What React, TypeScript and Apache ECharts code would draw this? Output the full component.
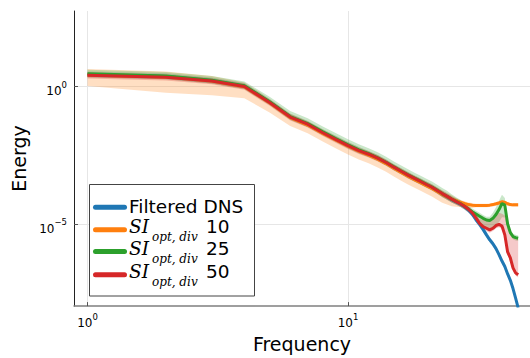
import React, { useEffect, useRef } from "react";
import * as echarts from "echarts";

// Wavenumbers (frequency) 1..45
const frequencies = [
  1, 2, 3, 4, 5, 6, 7, 8, 9, 10, 11, 12, 13, 14, 15, 16, 17, 18, 19, 20, 21, 22, 23,
  24, 25, 26, 27, 28, 29, 30, 31, 32, 33, 34, 35, 36, 37, 38, 39, 40, 41, 42, 43, 44, 45,
];

// Energy values as log10(E)
const dnsLog = [
  0.42, 0.35, 0.2, 0.0, -0.58, -1.12, -1.38, -1.68, -1.93, -2.15, -2.33, -2.47, -2.62, -2.78,
  -2.95, -3.1, -3.24, -3.36, -3.47, -3.58, -3.68, -3.8, -3.92, -4.02, -4.12, -4.2, -4.28, -4.38,
  -4.5, -4.65, -4.85, -5.02, -5.2, -5.4, -5.58, -5.72, -5.9, -6.12, -6.35, -6.55, -6.82, -7.05,
  -7.35, -7.7, -8.05,
];
const si10Log = [
  0.41, 0.34, 0.19, -0.02, -0.6, -1.14, -1.41, -1.71, -1.96, -2.18, -2.36, -2.5, -2.65, -2.81,
  -2.98, -3.13, -3.27, -3.39, -3.5, -3.61, -3.71, -3.82, -3.93, -4.02, -4.1, -4.16, -4.21, -4.26,
  -4.3, -4.32, -4.33, -4.33, -4.33, -4.33, -4.32, -4.3, -4.27, -4.24, -4.2, -4.22, -4.27, -4.3,
  -4.31, -4.31, -4.31,
];
const si25Log = [
  0.45, 0.37, 0.22, 0.02, -0.56, -1.1, -1.36, -1.66, -1.91, -2.13, -2.31, -2.45, -2.6, -2.76,
  -2.93, -3.08, -3.22, -3.34, -3.45, -3.56, -3.66, -3.78, -3.9, -4.0, -4.1, -4.18, -4.26, -4.36,
  -4.46, -4.56, -4.64, -4.72, -4.8, -4.86, -4.88, -4.8, -4.66, -4.48, -4.26, -4.32, -5.0, -5.32,
  -5.46, -5.5, -5.52,
];
const si50Log = [
  0.4, 0.33, 0.19, -0.01, -0.59, -1.12, -1.38, -1.69, -1.94, -2.16, -2.34, -2.47, -2.61, -2.77,
  -2.94, -3.09, -3.23, -3.35, -3.46, -3.57, -3.67, -3.79, -3.9, -4.0, -4.1, -4.19, -4.27, -4.36,
  -4.47, -4.6, -4.78, -4.98, -5.1, -5.16, -5.22, -5.16, -5.06, -5.02, -5.08, -5.4, -6.02, -6.24,
  -6.6, -6.78, -6.85,
];

// Ribbon half-widths (log10 units), above and below each curve
const dnsUp = [
  0.12, 0.12, 0.12, 0.12, 0.12, 0.12, 0.12, 0.12, 0.12, 0.12, 0.12, 0.12, 0.12, 0.12, 0.12,
  0.12, 0.12, 0.12, 0.12, 0.12, 0.12, 0.12, 0.12, 0.12, 0.12, 0.12, 0.12, 0.12, 0.12, 0.12,
  0.12, 0.12, 0.12, 0.12, 0.1, 0.1, 0.1, 0.1, 0.1, 0.1, 0.1, 0.1, 0.1, 0.1, 0.1,
];
const dnsDown = [
  0.1, 0.1, 0.1, 0.1, 0.1, 0.1, 0.1, 0.1, 0.1, 0.1, 0.1, 0.1, 0.1, 0.1, 0.1, 0.1, 0.1, 0.1,
  0.1, 0.1, 0.1, 0.1, 0.1, 0.1, 0.1, 0.1, 0.1, 0.1, 0.1, 0.1, 0.1, 0.1, 0.1, 0.1, 0.1, 0.1,
  0.1, 0.1, 0.1, 0.1, 0.1, 0.1, 0.1, 0.1, 0.1,
];
const si10Up = [
  0.22, 0.2, 0.18, 0.16, 0.15, 0.15, 0.15, 0.15, 0.15, 0.15, 0.15, 0.15, 0.15, 0.15, 0.15,
  0.15, 0.15, 0.15, 0.15, 0.15, 0.15, 0.15, 0.15, 0.15, 0.14, 0.1, 0.08, 0.08, 0.08, 0.08,
  0.06, 0.06, 0.06, 0.06, 0.06, 0.06, 0.06, 0.07, 0.08, 0.07, 0.06, 0.06, 0.06, 0.06, 0.06,
];
const si10Down = [
  0.4, 0.58, 0.52, 0.42, 0.35, 0.3, 0.3, 0.3, 0.3, 0.3, 0.3, 0.3, 0.3, 0.3, 0.3,
  0.3, 0.3, 0.3, 0.3, 0.3, 0.3, 0.3, 0.3, 0.28, 0.26, 0.22, 0.18, 0.15, 0.12, 0.1,
  0.07, 0.07, 0.07, 0.07, 0.07, 0.07, 0.07, 0.07, 0.07, 0.07, 0.07, 0.07, 0.07, 0.07, 0.07,
];
const si25Up = [
  0.15, 0.15, 0.15, 0.15, 0.18, 0.2, 0.2, 0.2, 0.2, 0.2, 0.2, 0.2, 0.2, 0.2, 0.2, 0.2, 0.2,
  0.2, 0.2, 0.2, 0.2, 0.2, 0.2, 0.2, 0.18, 0.15, 0.14, 0.13, 0.12, 0.12, 0.12, 0.12, 0.12,
  0.12, 0.14, 0.2, 0.26, 0.32, 0.32, 0.26, 0.16, 0.1, 0.1, 0.1, 0.1,
];
const si25Down = [
  0.12, 0.12, 0.12, 0.12, 0.12, 0.12, 0.12, 0.12, 0.12, 0.12, 0.12, 0.12, 0.12, 0.12, 0.12,
  0.12, 0.12, 0.12, 0.12, 0.12, 0.12, 0.12, 0.12, 0.12, 0.12, 0.12, 0.12, 0.12, 0.12, 0.12,
  0.15, 0.2, 0.25, 0.3, 0.32, 0.35, 0.4, 0.45, 0.5, 0.45, 0.2, 0.1, 0.1, 0.1, 0.1,
];
const si50Up = [
  0.1, 0.1, 0.1, 0.1, 0.1, 0.1, 0.1, 0.1, 0.1, 0.1, 0.1, 0.1, 0.1, 0.1, 0.1,
  0.1, 0.1, 0.1, 0.1, 0.1, 0.1, 0.1, 0.1, 0.1, 0.1, 0.1, 0.1, 0.1, 0.1, 0.1,
  0.12, 0.16, 0.25, 0.32, 0.36, 0.38, 0.4, 0.42, 0.45, 0.7, 1.0, 1.0, 1.2, 1.25, 1.3,
];
const si50Down = [
  0.12, 0.12, 0.12, 0.12, 0.12, 0.12, 0.12, 0.12, 0.12, 0.12, 0.12, 0.12, 0.12, 0.12, 0.12,
  0.12, 0.12, 0.12, 0.12, 0.12, 0.12, 0.12, 0.12, 0.12, 0.12, 0.12, 0.12, 0.12, 0.12, 0.12,
  0.1, 0.1, 0.1, 0.1, 0.1, 0.1, 0.1, 0.1, 0.1, 0.1, 0.1, 0.1, 0.1, 0.1, 0.1,
];

const xTicks = [0, 1]; // log10 of 10^0, 10^1
const yTicks = [0, -5]; // log10 of 10^0, 10^-5
const Y_MIN = -7.988;
const Y_MAX = 2.734;

const seriesNames = ["Filtered DNS", "SI_opt,div 10", "SI_opt,div 25", "SI_opt,div 50"];
const legendNumbers = ["", "10", "25", "50"];
const colors = ["#1f77b4", "#ff7f0e", "#2ca02c", "#d62728"];

const sup = (v: number) => (v < 0 ? "\u2212" + Math.abs(v) : String(v));

export default function App() {
  const ref = useRef<HTMLDivElement>(null);
  useEffect(() => {
    if (!ref.current) return;
    const chart = echarts.init(ref.current, undefined, { renderer: "svg" });
    const logK = frequencies.map((k) => Math.log10(k));
    const clampY = (v: number) => Math.max(Y_MIN, Math.min(Y_MAX, v));

    const curves = [
      { vals: dnsLog, up: dnsUp, down: dnsDown },
      { vals: si10Log, up: si10Up, down: si10Down },
      { vals: si25Log, up: si25Up, down: si25Down },
      { vals: si50Log, up: si50Up, down: si50Down },
    ];

    const series: any[] = [];
    curves.forEach((c, idx) => {
      const color = colors[idx];
      series.push({
        type: "custom",
        name: "ribbon-" + idx,
        data: [[0, 0]],
        silent: true,
        clip: true,
        z: 2,
        renderItem: (_params: any, api: any) => {
          const pts: number[][] = [];
          for (let i = 0; i < c.vals.length; i++) {
            pts.push(api.coord([logK[i], clampY(c.vals[i] + c.up[i])]));
          }
          for (let i = c.vals.length - 1; i >= 0; i--) {
            pts.push(api.coord([logK[i], clampY(c.vals[i] - c.down[i])]));
          }
          return {
            type: "polygon",
            shape: { points: pts },
            style: { fill: echarts.color.modifyAlpha(color, 0.25), stroke: "none" },
          };
        },
      });
      series.push({
        type: "line",
        name: seriesNames[idx],
        data: c.vals.map((v, i) => [logK[i], v]),
        symbol: "none",
        showSymbol: false,
        lineStyle: { width: 3, color },
        itemStyle: { color },
        z: 3,
      });
    });

    const tickRich = {
      b: { fontFamily: "DejaVu Sans", fontSize: 12, lineHeight: 12, padding: [5, 0, 0, 0], verticalAlign: "top", color: "#000" },
      s: { fontFamily: "DejaVu Sans", fontSize: 8.5, lineHeight: 9, verticalAlign: "top", color: "#000" },
    };

    // Legend drawn with graphic elements (to render the math subscripts)
    const legendRows = [207.3, 229.7, 251.5, 274.7];
    const legendEls: any[] = [
      {
        type: "rect",
        shape: { x: 89.5, y: 184.5, width: 165, height: 111.5 },
        style: { fill: "#fff", stroke: "#444", lineWidth: 1 },
        z: 100,
      },
    ];
    legendRows.forEach((yc, idx) => {
      legendEls.push({
        type: "line",
        shape: { x1: 95.5, y1: yc, x2: 124.5, y2: yc },
        style: { stroke: colors[idx], lineWidth: 5, lineCap: "round" },
        z: 101,
      });
      if (idx === 0) {
        legendEls.push({
          type: "text",
          x: 129,
          y: yc - 1.3,
          style: { text: "Filtered DNS", fontFamily: "DejaVu Sans", fontSize: 18.5, lineHeight: 16, fill: "#000", verticalAlign: "middle", align: "left" },
          z: 101,
        });
      } else {
        legendEls.push({
          type: "text",
          x: 129,
          y: yc - 2.8,
          style: { text: "SI", fontFamily: "DejaVu Serif", fontStyle: "italic", fontSize: 18.5, lineHeight: 16, fill: "#000", verticalAlign: "middle", align: "left" },
          z: 101,
        });
        legendEls.push({
          type: "text",
          x: 152,
          y: yc + 7.6,
          style: { text: "opt, div", fontFamily: "DejaVu Serif", fontStyle: "italic", fontSize: 12, lineHeight: 10, fill: "#000", verticalAlign: "middle", align: "left" },
          z: 101,
        });
        legendEls.push({
          type: "text",
          x: 206,
          y: yc - 2.8,
          style: { text: legendNumbers[idx], fontFamily: "DejaVu Sans", fontSize: 18.5, lineHeight: 16, fill: "#000", verticalAlign: "middle", align: "left" },
          z: 101,
        });
      }
    });

    chart.setOption({
      animation: false,
      backgroundColor: "#fff",
      grid: { left: 74, right: 0, top: 11, bottom: 51.7, containLabel: false },
      xAxis: {
        type: "value",
        min: -0.0518,
        max: 1.6987,
        name: "Frequency",
        nameLocation: "middle",
        nameGap: 27,
        nameTextStyle: { fontFamily: "DejaVu Sans", fontSize: 19, color: "#000" },
        axisLine: { show: true, onZero: false, lineStyle: { color: "#7f7f7f", width: 1.5 } },
        axisTick: { show: true, inside: true, length: 4, customValues: xTicks, lineStyle: { color: "#555" } },
        axisLabel: {
          customValues: xTicks,
          margin: 6,
          formatter: (v: number) => "{b|10}{s|" + sup(v) + "}",
          rich: tickRich,
        },
        splitLine: { show: true, lineStyle: { color: "#e6e6e6", width: 1 } },
      },
      yAxis: {
        type: "value",
        min: Y_MIN,
        max: Y_MAX,
        name: "Energy",
        nameLocation: "middle",
        nameGap: 43,
        nameTextStyle: { fontFamily: "DejaVu Sans", fontSize: 19, color: "#000" },
        axisLine: { show: true, onZero: false, lineStyle: { color: "#222", width: 1 } },
        axisTick: { show: true, inside: true, length: 4, customValues: yTicks, lineStyle: { color: "#555" } },
        axisLabel: {
          customValues: yTicks,
          margin: 7,
          formatter: (v: number) => "{b|10}{s|" + sup(v) + "}",
          rich: tickRich,
        },
        splitLine: { show: true, lineStyle: { color: "#e6e6e6", width: 1 } },
      },
      graphic: { elements: legendEls },
      series,
    });
    return () => chart.dispose();
  }, []);
  return <div ref={ref} style={{ position: "absolute", left: 0, top: 0, width: 530, height: 358 }} />;
}
